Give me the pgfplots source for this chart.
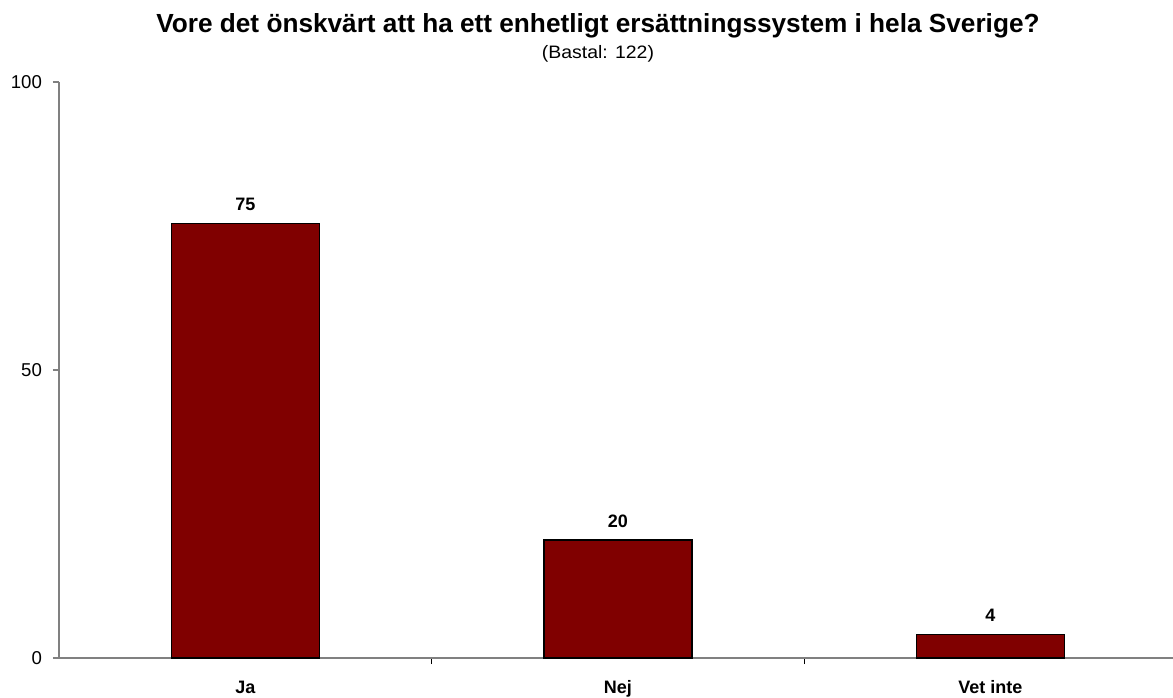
\documentclass[border=0pt]{standalone}
\usepackage{pgfplots}
\pgfplotsset{compat=1.18}
\usepackage{fontspec}
\setmainfont{Liberation Sans}
\newfontfamily\subfont[FakeStretch=1.08]{Liberation Sans}
\definecolor{barred}{HTML}{800000}
\definecolor{axisgray}{HTML}{808080}
\begin{document}
\begin{tikzpicture}
\begin{axis}[
    at={(0,0)}, anchor=south west,
    scale only axis,
    width=557pt, height=288pt,
    xmin=-0.5, xmax=2.49,
    ymin=0, ymax=100,
    axis lines*=left,
    axis line style={axisgray, line width=0.8pt},
    ytick={0,50,100},
    xtick={0,1,2},
    xticklabels={Ja,Nej,Vet inte},
    minor xtick={0.5,1.5,2.5},
    major x tick style={draw=none},
    minor x tick style={black, line width=0.5pt},
    y tick style={axisgray, line width=0.8pt},
    tick align=outside,
    major tick length=3pt,
    minor tick length=3pt,
    yticklabel style={font=\fontsize{9.3}{11}\selectfont, xshift=-2pt},
    xticklabel style={font=\fontsize{9}{11}\selectfont\bfseries, anchor=base, yshift=-14.5pt},
    /pgf/number format/assume math mode=true,
    ybar, bar width=74pt,
    nodes near coords,
    /pgf/number format/.cd, fixed, precision=0, /pgfplots/.cd,
    every node near coord/.append style={font=\fontsize{9}{11}\selectfont\bfseries, anchor=center, yshift=9.5pt},
    clip=false,
]
\addplot[fill=barred, draw=black, line width=0.7pt] coordinates {(0,75.4) (1,20.49) (2,4.1)};
\end{axis}
% title and base size
\node[anchor=base, font=\fontsize{13.1}{15}\selectfont\bfseries] at (269.5pt,312.5pt) {Vore det önskvärt att ha ett enhetligt ersättningssystem i hela Sverige?};
\node[anchor=base, font=\subfont\fontsize{9}{11}\selectfont] at (269.5pt,299.5pt) {(Bastal: 122)};
\pgfresetboundingbox
\useasboundingbox (-29.5pt,-19.5pt) rectangle (557pt,329pt);
\end{tikzpicture}
\end{document}
